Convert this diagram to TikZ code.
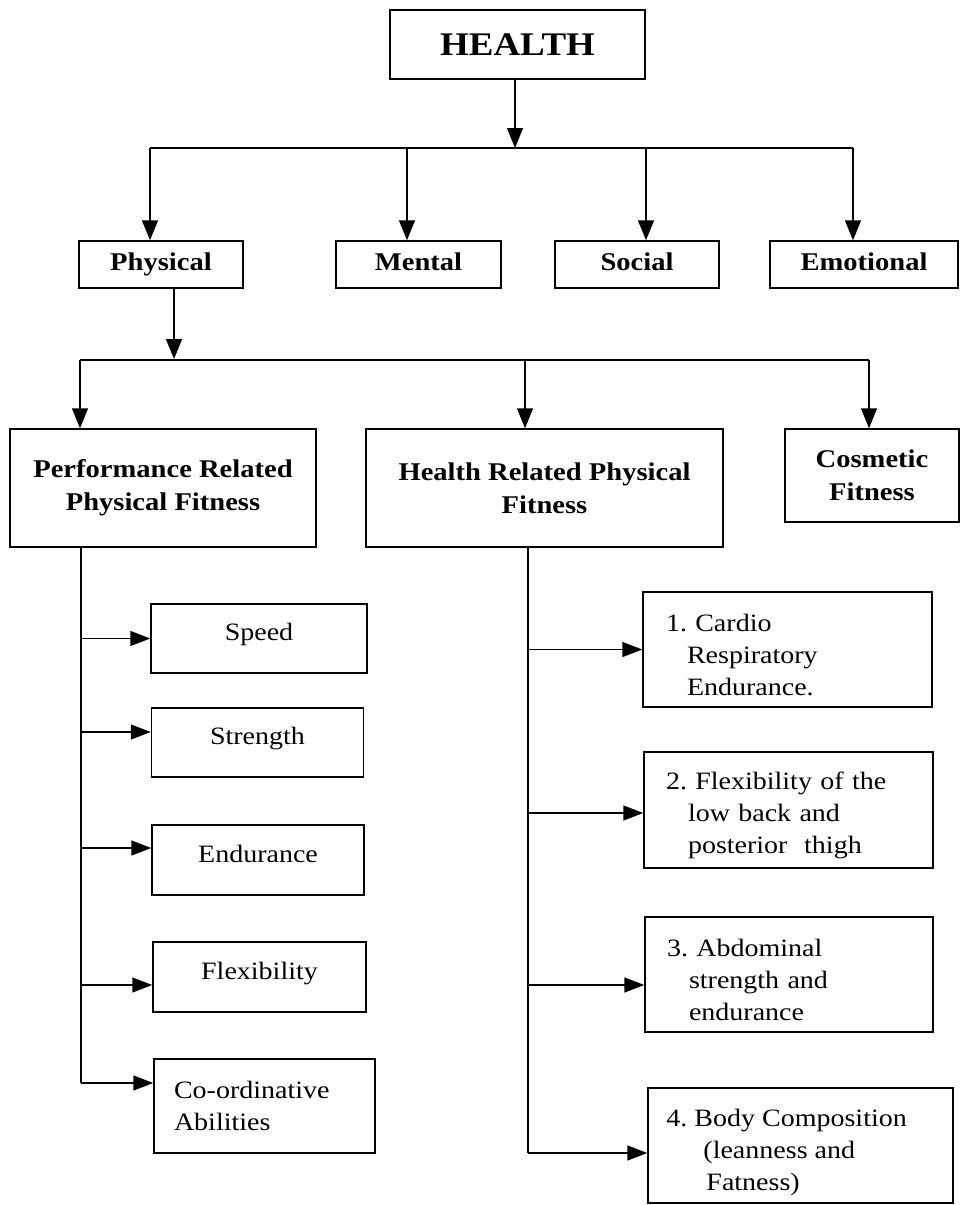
\documentclass[tikz,border=0pt]{standalone}
\usepackage{fontspec}
\setmainfont{Liberation Serif}[FakeStretch=1.12]
\usetikzlibrary{arrows.meta}
\newcommand\rmtxt{\fontsize{25}{32}\selectfont\frenchspacing}
\newcommand\bftxt{\fontsize{25.5}{33}\selectfont\bfseries}
\newcommand\hdtxt{\fontsize{33}{36}\selectfont\bfseries}
\newcommand\tstrut{\rule{0pt}{29pt}}
\tikzset{
  box/.style={draw, line width=1.5pt, inner sep=0pt, align=center},
  onebox/.style={box, font=\rmtxt, text height=15pt, text depth=11pt},
  topbox/.style={box, font=\bftxt, text height=18pt, text depth=6pt},
  lbox/.style={draw, line width=1.5pt, inner ysep=0pt, align=left, font=\rmtxt},
  ln/.style={line width=1.5pt},
  arr/.style={line width=1.5pt, -{Triangle[length=20pt,width=16pt]}},
  harr/.style={line width=1.5pt, -{Triangle[length=20pt,width=15pt]}}
}
\begin{document}
\begin{tikzpicture}[x=1pt,y=-1pt]
\useasboundingbox (0,0) rectangle (961,1205);
% level 0
\node[box, font=\hdtxt, minimum width=255pt, minimum height=69pt] (health) at (517.5,44.5) {HEALTH};
% level 1
\node[topbox, minimum width=164pt, minimum height=47pt] (phys) at (161,264.5) {Physical};
\node[topbox, minimum width=165pt, minimum height=47pt] (ment) at (418.5,264.5) {Mental};
\node[topbox, minimum width=164pt, minimum height=47pt] (soc) at (637,264.5) {Social};
\node[topbox, minimum width=188pt, minimum height=47pt] (emo) at (864,264.5) {Emotional};
% level 2
\node[box, font=\bftxt, minimum width=306pt, minimum height=118pt] (perf) at (163,488) {Performance Related\\Physical Fitness};
\node[box, font=\bftxt, minimum width=357pt, minimum height=118pt] (hrel) at (544.5,488) {Health Related Physical\\Fitness};
\node[box, font=\bftxt, minimum width=174pt, minimum height=93pt] (cosm) at (872,475.5) {Cosmetic\\Fitness};
% performance items
\node[onebox, minimum width=216pt, minimum height=69pt] (speed) at (259,638.5) {Speed};
\node[onebox, minimum width=212pt, minimum height=69pt] (stren) at (257.5,742.5) {Strength};
\node[onebox, minimum width=212pt, minimum height=70pt] (endu) at (258,860) {Endurance};
\node[onebox, minimum width=213pt, minimum height=70pt] (flex) at (259.5,977) {Flexibility};
\node[lbox, inner xsep=20pt, text width=181pt, minimum height=94pt] (coord) at (264.5,1106) {Co-ordinative\\Abilities};
% health related items
\node[lbox, inner xsep=23pt, text width=243pt, minimum height=115pt] (h1) at (787.5,649.5) {\tstrut 1. Cardio\\\hspace*{21pt}Respiratory\\\hspace*{21pt}Endurance.};
\node[lbox, inner xsep=22pt, text width=245pt, minimum height=116pt] (h2) at (788.5,810) {\tstrut 2. Flexibility of the\\\hspace*{22pt}low back and\\\hspace*{22pt}posterior\ \ thigh};
\node[lbox, inner xsep=22pt, text width=244pt, minimum height=115pt] (h3) at (789,974.5) {\tstrut 3. Abdominal\\\hspace*{22pt}strength and\\\hspace*{22pt}endurance};
\node[box, minimum width=305pt, minimum height=115pt] (h4) at (800.5,1145.5) {};
\node[anchor=north west, font=\rmtxt, align=left, inner sep=0pt] (h4t) at ([xshift=19pt,yshift=-22pt]h4.north west) {4. Body Composition\\\hspace*{37pt}(leanness and\\\hspace*{40pt}Fatness)};
% connectors level 0 -> 1
\coordinate (j0) at (515,148);
\coordinate (j0l) at (150,148);
\coordinate (j0m) at (407,148);
\coordinate (j0s) at (646,148);
\coordinate (j0r) at (853,148);
\draw[arr] (health.south -| j0) -- (j0);
\draw[ln] (j0l) -- (j0r);
\draw[arr] (j0l) -- (j0l |- phys.north);
\draw[arr] (j0m) -- (j0m |- ment.north);
\draw[arr] (j0s) -- (j0s |- soc.north);
\draw[arr] (j0r) -- (j0r |- emo.north);
% physical -> level 2
\coordinate (j1) at (174,359);
\coordinate (j1l) at (80,360);
\coordinate (j1m) at (525,360);
\coordinate (j1r) at (869,360);
\draw[arr] (phys.south -| j1) -- (j1);
\draw[ln] (j1l) -- (j1r);
\draw[arr] (j1l) -- (j1l |- perf.north);
\draw[arr] (j1m) -- (j1m |- hrel.north);
\draw[arr] (j1r) -- (j1r |- cosm.north);
% performance trunk
\coordinate (pt) at (81,547);
\coordinate (pb) at (81,1083);
\coordinate (pa) at (81,732);
\coordinate (pc) at (81,848);
\coordinate (pd) at (81,985);
\draw[ln] (pt) -- (pb);
\draw[harr] (speed.west -| pt) -- (speed.west);
\draw[harr] (pa) -- (pa -| stren.west);
\draw[harr] (pc) -- (pc -| endu.west);
\draw[harr] (pd) -- (pd -| flex.west);
\draw[harr] (pb) -- (pb -| coord.west);
% health related trunk
\coordinate (ht) at (528,547);
\coordinate (hb) at (528,1153);
\coordinate (h2a) at (528,813);
\coordinate (h3a) at (528,985);
\draw[ln] (ht) -- (hb);
\draw[harr] (h1.west -| ht) -- (h1.west);
\draw[harr] (h2a) -- (h2a -| h2.west);
\draw[harr] (h3a) -- (h3a -| h3.west);
\draw[harr] (hb) -- (hb -| h4.west);
\end{tikzpicture}
\end{document}
